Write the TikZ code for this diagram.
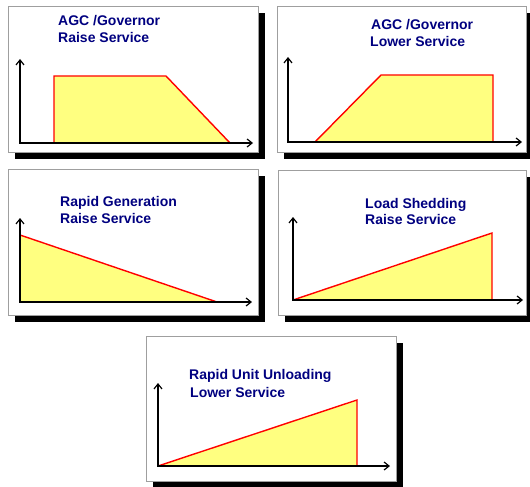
\documentclass[tikz,border=0pt]{standalone}
\usepackage{fontspec}
\setmainfont{Liberation Sans}
\usetikzlibrary{arrows.meta}
\definecolor{titleblue}{RGB}{0,0,128}
\definecolor{areafill}{RGB}{255,255,128}
\tikzset{
	panel/.style = {draw = gray!75, fill = white, line width = 0.8pt},
	shadowbox/.style = {fill = black},
	axis/.style = {{Straight Barb[length=5pt,width=8pt]}-{Straight Barb[length=5pt,width=8pt]}, line width = 1.2pt, line join = miter},
	area/.style = {fill = areafill},
	edge/.style = {draw = red, line width = 1.4pt},
	title/.style = {anchor = base west, inner sep = 0pt, text = titleblue, font = \bfseries\fontsize{14}{17}\selectfont}
}
\begin{document}
\begin{tikzpicture}[x = 1pt, y = -1pt]
	\useasboundingbox (0, 0) rectangle (530, 487);
	% AGC raise
	\fill [shadowbox] (15, 13) rectangle (265, 159);
	\draw [panel] (8, 6) rectangle (258, 152);
	\coordinate (o1) at (20, 143);
	\coordinate (y1) at (20, 59);
	\coordinate (x1) at (253, 143);
	\coordinate (a1) at (54, 143);
	\coordinate (b1) at (54, 76);
	\coordinate (c1) at (166, 76);
	\coordinate (d1) at (230, 143);
	\fill [area] (a1) -- (b1) -- (c1) -- (d1) -- cycle;
	\draw [edge] (a1) -- (b1) -- (c1) -- (d1);
	\draw [axis] (y1) -- (o1) -- (x1);
	\node [title] (t1a) at (58, 26) {AGC /Governor};
	\node [title] (t1b) at (58, 43) {Raise Service};
	% AGC lower
	\fill [shadowbox] (284, 13) rectangle (533, 159);
	\draw [panel] (277, 6) rectangle (526, 152);
	\coordinate (o2) at (288, 142);
	\coordinate (y2) at (288, 57);
	\coordinate (x2) at (522, 142);
	\coordinate (a2) at (315, 142);
	\coordinate (b2) at (381, 75);
	\coordinate (c2) at (493, 75);
	\coordinate (d2) at (493, 142);
	\fill [area] (a2) -- (b2) -- (c2) -- (d2) -- cycle;
	\draw [edge] (a2) -- (b2) -- (c2) -- (d2);
	\draw [axis] (y2) -- (o2) -- (x2);
	\node [title] (t2a) at (371, 30) {AGC /Governor};
	\node [title] (t2b) at (370, 47) {Lower Service};
	% rapid generation
	\fill [shadowbox] (15, 176) rectangle (265, 322);
	\draw [panel] (8, 169) rectangle (258, 315);
	\coordinate (o3) at (20, 302);
	\coordinate (y3) at (20, 218);
	\coordinate (x3) at (252, 302);
	\coordinate (a3) at (20, 235);
	\coordinate (b3) at (217, 302);
	\fill [area] (o3) -- (a3) -- (b3) -- cycle;
	\draw [edge] (a3) -- (b3);
	\draw [axis] (y3) -- (o3) -- (x3);
	\node [title] (t3a) at (60, 206) {Rapid Generation};
	\node [title] (t3b) at (60, 223) {Raise Service};
	% load shedding
	\fill [shadowbox] (285, 177) rectangle (533, 322);
	\draw [panel] (278, 170) rectangle (526, 315);
	\coordinate (o4) at (293, 300);
	\coordinate (y4) at (293, 217);
	\coordinate (x4) at (523, 300);
	\coordinate (a4) at (492, 233);
	\coordinate (b4) at (492, 300);
	\fill [area] (o4) -- (a4) -- (b4) -- cycle;
	\draw [edge] (o4) -- (a4) -- (b4);
	\draw [axis] (y4) -- (o4) -- (x4);
	\node [title] (t4a) at (365, 208) {Load Shedding};
	\node [title] (t4b) at (365, 224) {Raise Service};
	% rapid unit unloading
	\fill [shadowbox] (153, 343) rectangle (403, 490);
	\draw [panel] (146, 336) rectangle (396, 481);
	\coordinate (o5) at (158, 466);
	\coordinate (y5) at (158, 383);
	\coordinate (x5) at (390, 466);
	\coordinate (a5) at (357, 400);
	\coordinate (b5) at (357, 466);
	\fill [area] (o5) -- (a5) -- (b5) -- cycle;
	\draw [edge] (o5) -- (a5) -- (b5);
	\draw [axis] (y5) -- (o5) -- (x5);
	\node [title] (t5a) at (189, 379) {Rapid Unit Unloading};
	\node [title] (t5b) at (190, 397) {Lower Service};
\end{tikzpicture}
\end{document}
